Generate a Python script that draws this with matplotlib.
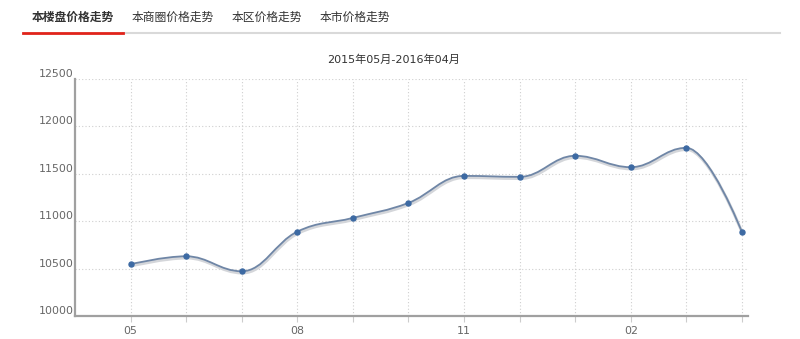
import numpy as np
import matplotlib.pyplot as plt
import matplotlib.transforms as mtransforms
from matplotlib.path import Path
from matplotlib.patches import PathPatch

plt.rcParams['font.family'] = ['DejaVu Sans', 'Noto Sans CJK SC']

months = ['05', '06', '07', '08', '09', '10', '11', '12', '01', '02', '03', '04']
prices = [10546, 10630, 10472, 10890, 11035, 11193, 11478, 11468, 11690, 11570, 11774, 10887]
tabs = ['本楼盘价格走势', '本商圈价格走势', '本区价格走势', '本市价格走势']
title = '2015年05月-2016年04月'
yticks = [10000, 10500, 11000, 11500, 12000, 12500]


def spline_path(x, y, smoothing=1.5):
    # bezier spline like the web chart draws it (flat at local extremes)
    n = len(x)
    denom = smoothing + 1
    lc = [(x[i], y[i]) for i in range(n)]
    rc = [(x[i], y[i]) for i in range(n)]
    for i in range(1, n - 1):
        px, py = x[i], y[i]
        lx, ly = x[i - 1], y[i - 1]
        nx, ny = x[i + 1], y[i + 1]
        lcx = (smoothing * px + lx) / denom
        lcy = (smoothing * py + ly) / denom
        rcx = (smoothing * px + nx) / denom
        rcy = (smoothing * py + ny) / denom
        corr = (rcy - lcy) * (rcx - px) / (rcx - lcx) + py - rcy
        lcy += corr
        rcy += corr
        if lcy > ly and lcy > py:
            lcy = max(ly, py)
            rcy = 2 * py - lcy
        elif lcy < ly and lcy < py:
            lcy = min(ly, py)
            rcy = 2 * py - lcy
        if rcy > ny and rcy > py:
            rcy = max(ny, py)
            lcy = 2 * py - rcy
        elif rcy < ny and rcy < py:
            rcy = min(ny, py)
            lcy = 2 * py - rcy
        lc[i] = (lcx, lcy)
        rc[i] = (rcx, rcy)
    verts = [(x[0], y[0])]
    codes = [Path.MOVETO]
    for i in range(1, n):
        verts += [rc[i - 1], lc[i], (x[i], y[i])]
        codes += [Path.CURVE4] * 3
    return Path(verts, codes)


fig = plt.figure(figsize=(8, 3.39), dpi=100)

# tabs on top
tab_x = [32, 132, 232, 320]
for i, (lab, tx) in enumerate(zip(tabs, tab_x)):
    fig.text(tx / 800, 1 - 17 / 339, lab, fontsize=8.5, color='#333333',
             family=['Noto Sans CJK SC', 'DejaVu Sans'],
             fontweight='bold' if i == 0 else 'normal', va='center', ha='left')
fig.add_artist(plt.Line2D([123 / 800, 780 / 800], [1 - 33 / 339] * 2, color='#d9d9d9', lw=1.5))
fig.add_artist(plt.Line2D([23 / 800, 123 / 800], [1 - 33 / 339] * 2, color='#e0231a', lw=2))

ax = fig.add_axes([75 / 800, 1 - 316 / 339, (748 - 75) / 800, (316 - 79) / 339])
x = np.arange(len(months))

path = spline_path(list(x.astype(float)), [float(v) for v in prices])
shadow = mtransforms.offset_copy(ax.transData, fig=fig, x=0.5, y=-1.2, units='points')
ax.add_patch(PathPatch(path, fill=False, edgecolor='#d4d6da', lw=2.2, transform=shadow, zorder=2))
ax.add_patch(PathPatch(path, fill=False, edgecolor='#6f86a6', lw=1.3, zorder=3))
ax.plot(x, prices, 'o', color='#3d6aa3', ms=3.6, zorder=4)

ax.set_xlim(-1, 11.11)
ax.set_ylim(10000, 12500)
ax.set_yticks(yticks)
ax.set_yticklabels([str(v) for v in yticks])
ax.set_xticks(x)
ax.set_xticklabels([m if i % 3 == 0 else '' for i, m in enumerate(months)])

ax.grid(True, color='#cfcfcf', linestyle=(0, (1, 2)), lw=0.8)
for s in ['top', 'right']:
    ax.spines[s].set_visible(False)
for s in ['left', 'bottom']:
    ax.spines[s].set_color('#a0a0a0')
    ax.spines[s].set_linewidth(1.6)

ax.tick_params(axis='y', length=0, pad=1, labelsize=7.9, labelcolor='#666666')
ax.tick_params(axis='x', length=4, color='#cccccc', pad=3, labelsize=7.9, labelcolor='#666666')
for lab in ax.get_yticklabels():
    lab.set_verticalalignment('bottom')

fig.text(394 / 800, 1 - 60 / 339, title, fontsize=8, color='#333333', ha='center', va='center',
         family=['DejaVu Sans', 'Noto Sans CJK SC'])

fig.savefig('out.png', dpi=100)
